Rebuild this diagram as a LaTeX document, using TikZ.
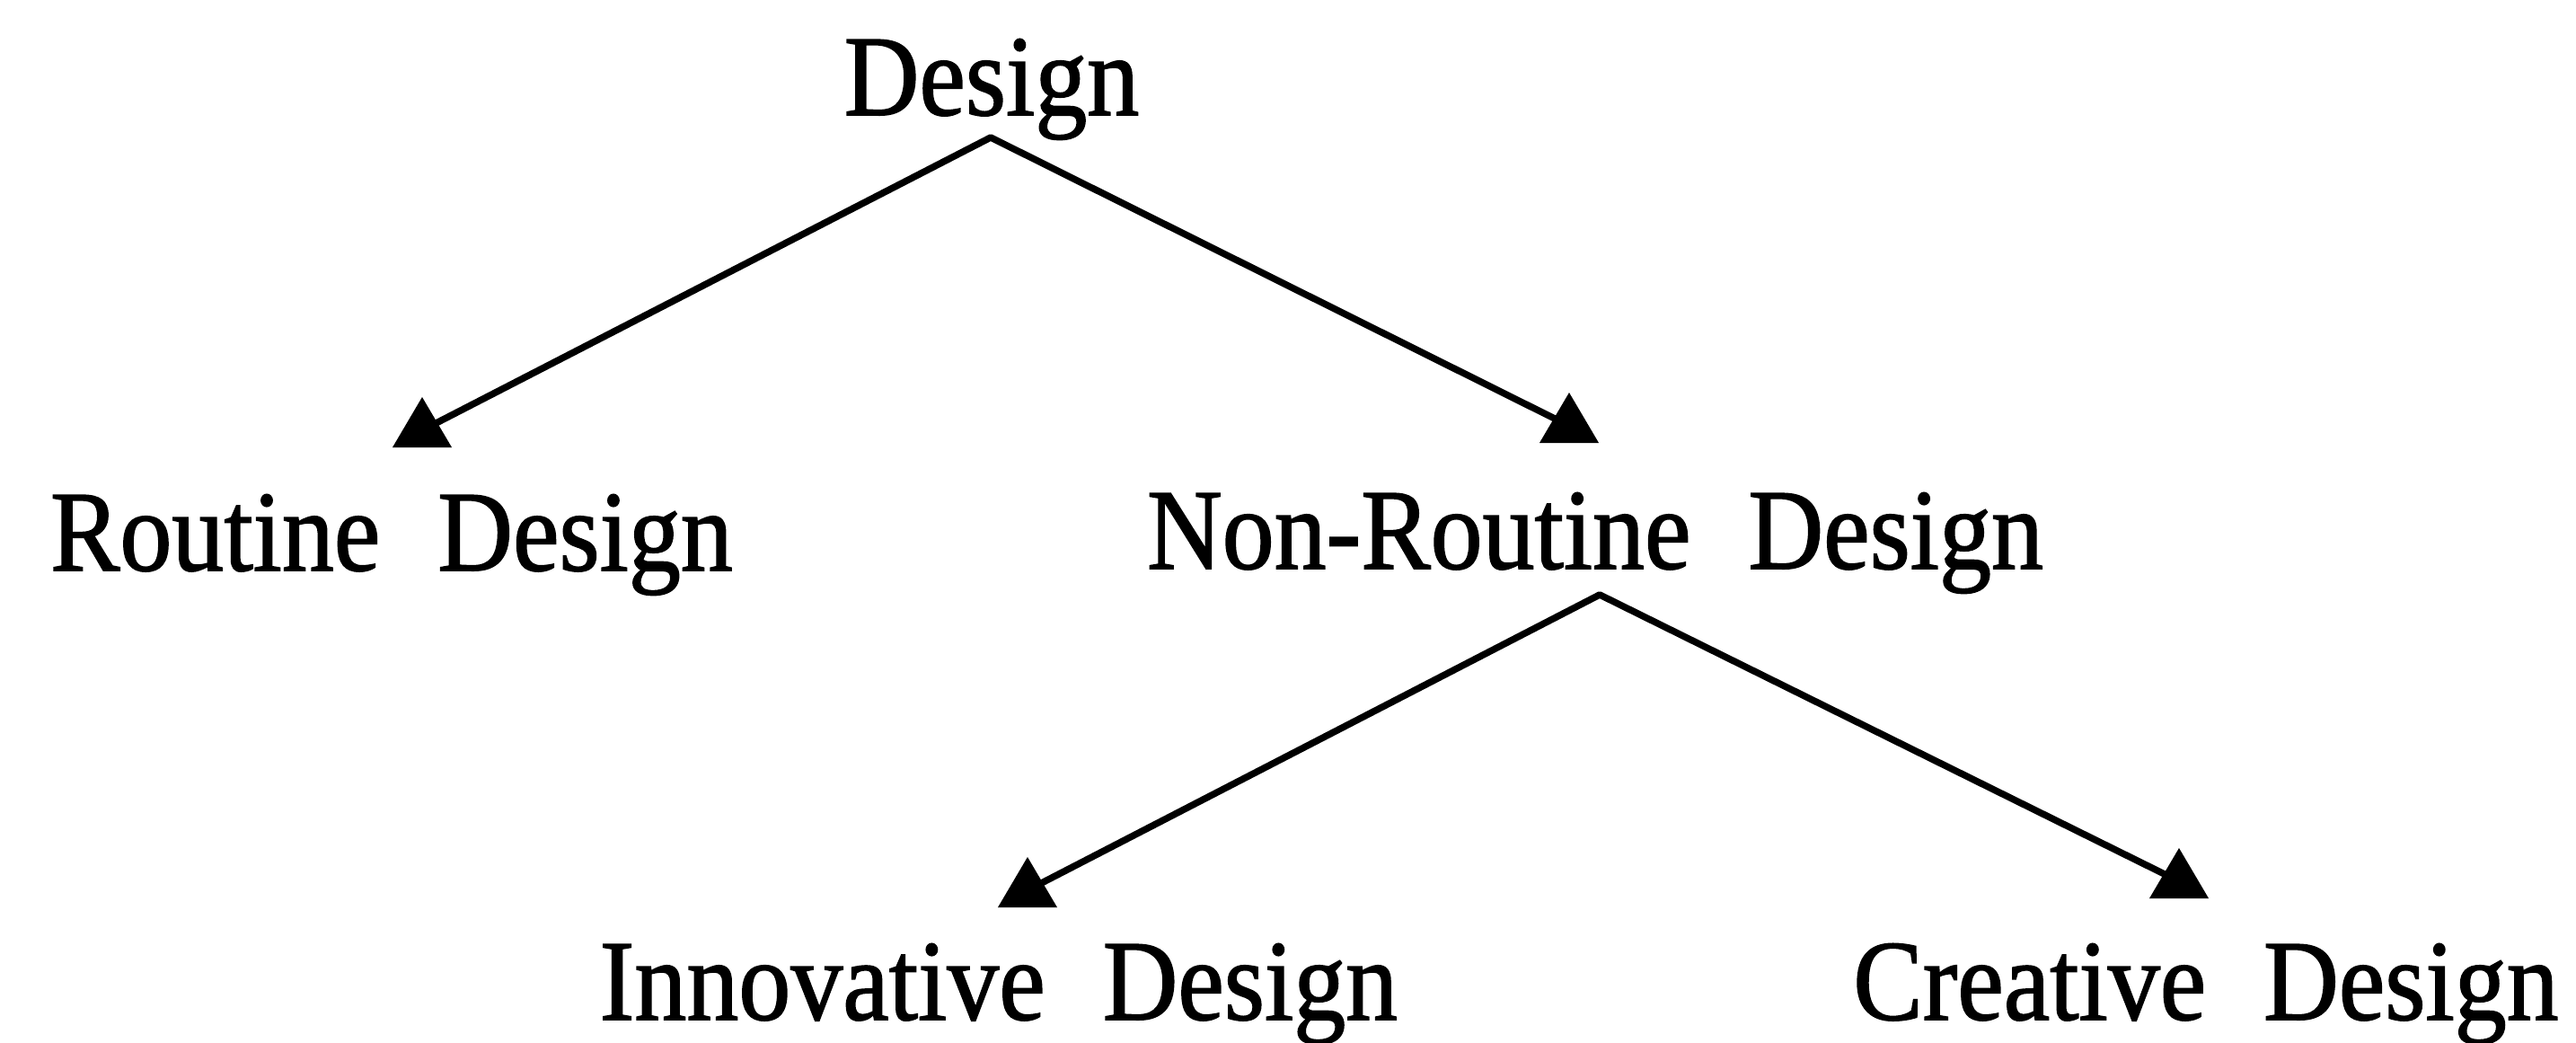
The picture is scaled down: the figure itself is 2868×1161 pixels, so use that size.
\documentclass[tikz,border=0pt]{standalone}
\usepackage{fontspec}
\setmainfont{Liberation Serif}[FakeStretch=0.906,UprightFeatures={FakeBold=1.2}]
\newcommand\wgap{\ \hspace{35pt}}
\newcommand\uptri[1]{\fill (#1) +(-33,19) -- +(33,19) -- +(0,-37) -- cycle;}
\begin{document}
\begin{tikzpicture}[x=1pt,y=-1pt,
  lbl/.style={anchor=base,inner sep=0pt,font=\fontsize{128}{150}\selectfont},
  conn/.style={line width=7.5pt,line join=round,line cap=round}]
\useasboundingbox (0,0) rectangle (2868,1161);
\node[lbl] (design) at (1104,128) {Design};
\node[lbl] (routine) at (436,635) {Routine\wgap Design};
\node[lbl] (nonroutine) at (1776,633) {Non-Routine\wgap Design};
\node[lbl] (innovative) at (1112,1135) {Innovative\wgap Design};
\node[lbl] (creative) at (2456,1135) {Creative\wgap Design};
\coordinate (apexA) at (1103,153);
\coordinate (apexB) at (1781,662);
\coordinate (tipR) at (470,479);
\coordinate (tipN) at (1747,474);
\coordinate (tipI) at (1144,991);
\coordinate (tipC) at (2426,981);
\draw[conn] (tipR) -- (apexA) -- (tipN);
\draw[conn] (tipI) -- (apexB) -- (tipC);
\uptri{tipR}
\uptri{tipN}
\uptri{tipI}
\uptri{tipC}
\end{tikzpicture}
\end{document}
